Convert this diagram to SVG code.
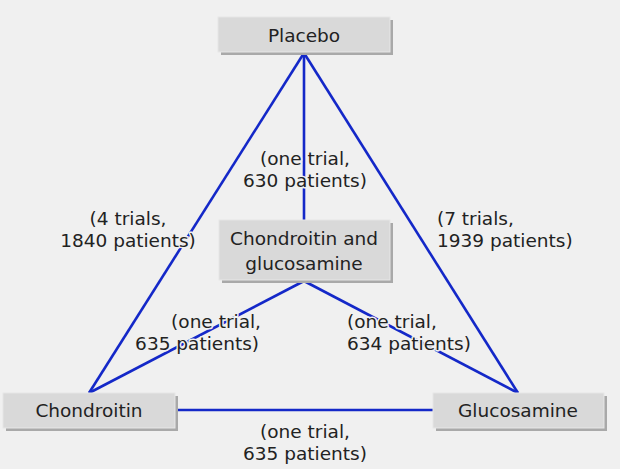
<svg xmlns="http://www.w3.org/2000/svg" width="620" height="469" viewBox="0 0 620 469">
<style>
.bg{fill:#f0f0f0}
.box{fill:#d9d9d9;stroke:#e6e6e6;stroke-width:1}
.sh{fill:#a9a9a9}
.nt{font-family:"DejaVu Sans","Liberation Sans",sans-serif;font-size:18.5px;fill:#222;text-anchor:middle}
.lb{font-family:"DejaVu Sans","Liberation Sans",sans-serif;font-size:18.5px;fill:#222;stroke:#f0f0f0;stroke-width:3;paint-order:stroke;stroke-linejoin:round}
.ln{stroke:#1428c8;stroke-width:2.6;fill:none;stroke-linejoin:miter}
</style>
<rect class="bg" x="0" y="0" width="620" height="469"/>
<g id="connectors">
<line class="ln" x1="304" y1="53" x2="89" y2="393"/>
<line class="ln" x1="304" y1="53" x2="518" y2="393"/>
<line class="ln" x1="304" y1="53" x2="304" y2="220"/>
<line class="ln" x1="304" y1="281" x2="89" y2="393"/>
<line class="ln" x1="304" y1="281" x2="518" y2="393"/>
<line class="ln" x1="175" y1="410" x2="433" y2="410"/>
</g>
<g id="labels">
<text class="lb" text-anchor="middle"><tspan x="305" y="165">(one trial,</tspan><tspan x="305" y="187">630 patients)</tspan></text>
<text class="lb" text-anchor="middle"><tspan x="128" y="225">(4 trials,</tspan><tspan x="128" y="247">1840 patients)</tspan></text>
<text class="lb" text-anchor="start"><tspan x="437" y="225">(7 trials,</tspan><tspan x="437" y="247">1939 patients)</tspan></text>
<text class="lb" text-anchor="end"><tspan x="261" y="328">(one trial,</tspan><tspan x="259" y="350">635 patients)</tspan></text>
<text class="lb" text-anchor="start"><tspan x="347" y="328">(one trial,</tspan><tspan x="347" y="350">634 patients)</tspan></text>
<text class="lb" text-anchor="middle"><tspan x="305" y="438">(one trial,</tspan><tspan x="305" y="460">635 patients)</tspan></text>
</g>
<g id="placebo">
<rect class="sh" x="221" y="20" width="172" height="35"/>
<rect class="box" x="218" y="17" width="172" height="35"/>
<text class="nt" x="304" y="42">Placebo</text>
</g>
<g id="chondroitin-glucosamine">
<rect class="sh" x="222" y="223" width="171" height="60"/>
<rect class="box" x="219" y="220" width="171" height="60"/>
<text class="nt" x="304" y="245">Chondroitin and</text>
<text class="nt" x="304" y="270">glucosamine</text>
</g>
<g id="chondroitin">
<rect class="sh" x="6" y="396" width="172" height="35"/>
<rect class="box" x="3" y="393" width="172" height="35"/>
<text class="nt" x="89" y="417">Chondroitin</text>
</g>
<g id="glucosamine">
<rect class="sh" x="436" y="396" width="171" height="35"/>
<rect class="box" x="433" y="393" width="171" height="35"/>
<text class="nt" x="518" y="417">Glucosamine</text>
</g>
</svg>
